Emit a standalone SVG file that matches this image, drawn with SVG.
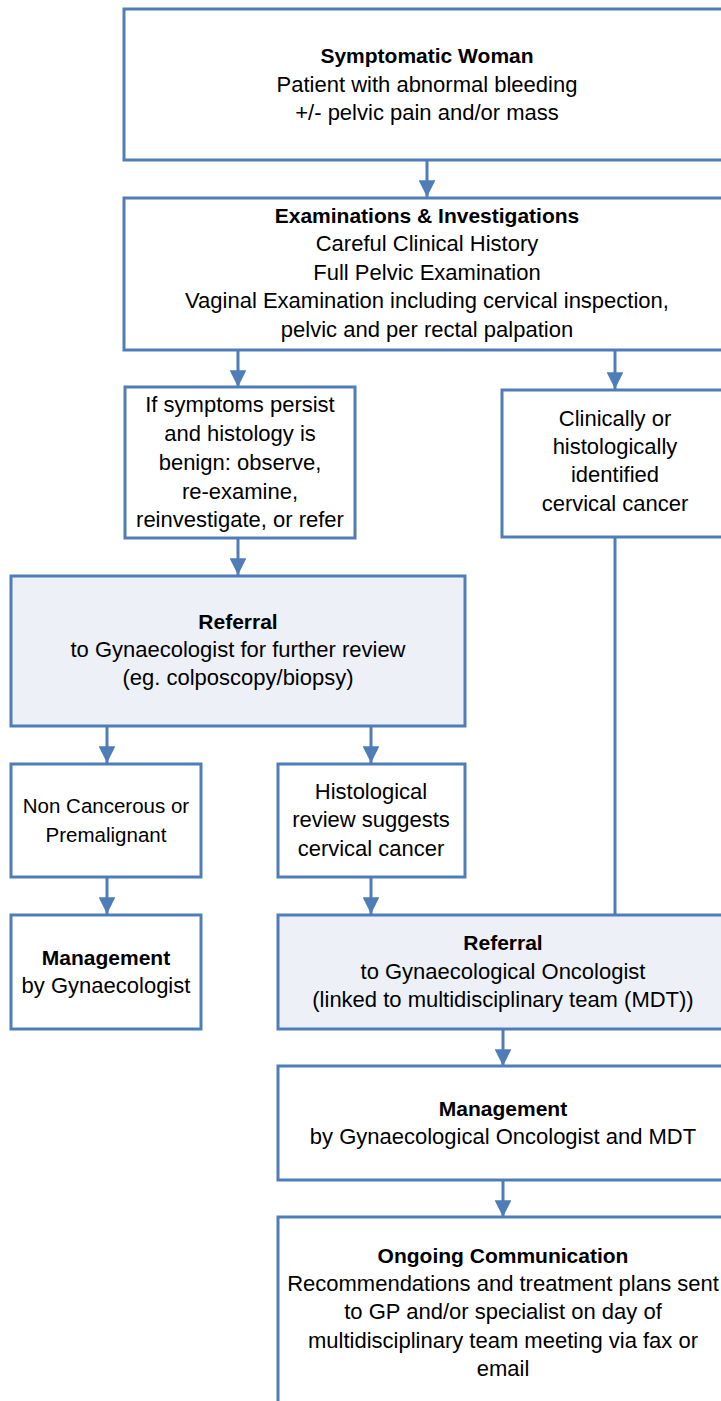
<svg xmlns="http://www.w3.org/2000/svg" width="721" height="1401" viewBox="0 0 721 1401">
  <defs>
    <style>
      .box { fill: #ffffff; stroke: #4F7DB8; stroke-width: 3; }
      .box.tint { fill: #EDF0F6; }
      .wire { fill: none; stroke: #4F7DB8; stroke-width: 3; }
      text { font-family: "Liberation Sans", Arial, sans-serif; font-size: 22px; fill: #000000; text-anchor: middle; }
      .b { font-weight: bold; font-size: 21px; }
      .sm { font-size: 20.5px; }
    </style>
    <marker id="head" viewBox="0 0 10 10" refX="10" refY="5" markerWidth="5.6" markerHeight="5.6" markerUnits="strokeWidth" orient="auto">
      <path d="M0,0 L10,5 L0,10 Z" fill="#4F7DB8"/>
    </marker>
  </defs>

  <!-- connectors -->
  <g id="connectors">
    <line class="wire" x1="427" y1="160" x2="427" y2="197" marker-end="url(#head)"/>
    <line class="wire" x1="238" y1="350" x2="238" y2="387" marker-end="url(#head)"/>
    <line class="wire" x1="615" y1="350" x2="615" y2="389" marker-end="url(#head)"/>
    <line class="wire" x1="238" y1="538" x2="238" y2="575" marker-end="url(#head)"/>
    <line class="wire" x1="107" y1="726" x2="107" y2="763" marker-end="url(#head)"/>
    <line class="wire" x1="371" y1="726" x2="371" y2="763" marker-end="url(#head)"/>
    <line class="wire" x1="107" y1="877" x2="107" y2="914" marker-end="url(#head)"/>
    <line class="wire" x1="371" y1="877" x2="371" y2="914" marker-end="url(#head)"/>
    <line class="wire" x1="615" y1="537" x2="615" y2="915"/>
    <line class="wire" x1="503" y1="1029" x2="503" y2="1066" marker-end="url(#head)"/>
    <line class="wire" x1="503" y1="1180" x2="503" y2="1217" marker-end="url(#head)"/>
  </g>

  <g id="symptomatic">
    <rect class="box" x="124" y="9" width="606" height="151"/>
    <text x="427" y="63" class="b">Symptomatic Woman</text>
    <text x="427" y="92">Patient with abnormal bleeding</text>
    <text x="427" y="120">+/- pelvic pain and/or mass</text>
  </g>

  <g id="examinations">
    <rect class="box" x="124" y="198" width="606" height="152"/>
    <text x="427" y="223" class="b">Examinations &amp; Investigations</text>
    <text x="427" y="251">Careful Clinical History</text>
    <text x="427" y="280">Full Pelvic Examination</text>
    <text x="427" y="308">Vaginal Examination including cervical inspection,</text>
    <text x="427" y="337">pelvic and per rectal palpation</text>
  </g>

  <g id="persist">
    <rect class="box" x="125" y="387" width="230" height="151"/>
    <text x="240" y="412">If symptoms persist</text>
    <text x="240" y="441">and histology is</text>
    <text x="240" y="470">benign: observe,</text>
    <text x="240" y="499">re-examine,</text>
    <text x="240" y="527">reinvestigate, or refer</text>
  </g>

  <g id="identified">
    <rect class="box" x="502" y="390" width="228" height="147"/>
    <text x="615" y="426">Clinically or</text>
    <text x="615" y="454">histologically</text>
    <text x="615" y="482">identified</text>
    <text x="615" y="511">cervical cancer</text>
  </g>

  <g id="referral-gynae">
    <rect class="box tint" x="11" y="576" width="454" height="150"/>
    <text x="238" y="629" class="b">Referral</text>
    <text x="238" y="657">to Gynaecologist for further review</text>
    <text x="238" y="685">(eg. colposcopy/biopsy)</text>
  </g>

  <g id="non-cancerous">
    <rect class="box" x="11" y="764" width="190" height="113"/>
    <text x="106" y="813" class="sm">Non Cancerous or</text>
    <text x="106" y="842" class="sm">Premalignant</text>
  </g>

  <g id="histological">
    <rect class="box" x="278" y="764" width="187" height="113"/>
    <text x="371" y="799">Histological</text>
    <text x="371" y="827">review suggests</text>
    <text x="371" y="856">cervical cancer</text>
  </g>

  <g id="management-gynae">
    <rect class="box" x="11" y="915" width="190" height="114"/>
    <text x="106" y="965" class="b">Management</text>
    <text x="106" y="993">by Gynaecologist</text>
  </g>

  <g id="referral-oncology">
    <rect class="box tint" x="278" y="915" width="452" height="114"/>
    <text x="503" y="950" class="b">Referral</text>
    <text x="503" y="979">to Gynaecological Oncologist</text>
    <text x="503" y="1007">(linked to multidisciplinary team (MDT))</text>
  </g>

  <g id="management-oncology">
    <rect class="box" x="278" y="1066" width="452" height="114"/>
    <text x="503" y="1116" class="b">Management</text>
    <text x="503" y="1144">by Gynaecological Oncologist and MDT</text>
  </g>

  <g id="communication">
    <rect class="box" x="278" y="1217" width="452" height="200"/>
    <text x="503" y="1263" class="b">Ongoing Communication</text>
    <text x="503" y="1291">Recommendations and treatment plans sent</text>
    <text x="503" y="1319">to GP and/or specialist on day of</text>
    <text x="503" y="1348">multidisciplinary team meeting via fax or</text>
    <text x="503" y="1376">email</text>
  </g>
</svg>
